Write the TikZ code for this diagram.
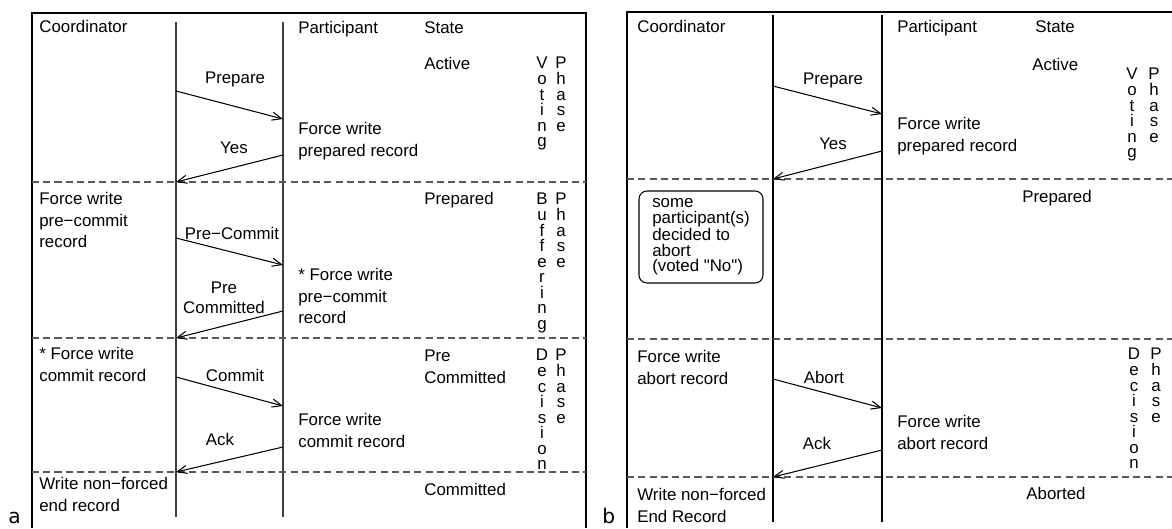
\documentclass[tikz,border=0pt]{standalone}
\usepackage{fontspec}
\newfontfamily\diagfont{Liberation Sans}
\newfontfamily\panelfont{DejaVu Sans}
\usetikzlibrary{arrows.meta}
\tikzset{
  frm/.style ={line width=1.3pt},
  life/.style={line width=0.6pt, black!75},
  sep/.style ={dash pattern=on 4pt off 2.4pt, line width=0.6pt, black!65},
  msg/.style ={-{Straight Barb[length=5.5pt, width=4.6pt]}, line width=0.6pt},
  txt/.style ={font=\diagfont\fontsize{9.6}{12.2}\selectfont, inner sep=0pt,
               align=left, anchor=north west},
  mlab/.style={font=\diagfont\fontsize{9.6}{11.4}\selectfont, inner sep=0pt,
               align=center, anchor=north},
  vert/.style={font=\diagfont\fontsize{9.6}{8.85}\selectfont, inner sep=0pt,
               align=center, anchor=north},
  notebox/.style={draw, rounded corners=4.5pt, line width=0.6pt,
               font=\diagfont\fontsize{9.6}{8.8}\selectfont, align=left,
               minimum width=2.48cm, minimum height=1.84cm, inner sep=0pt},
  plab/.style={font=\panelfont\fontsize{11.5}{12}\selectfont,
               inner sep=0pt, anchor=base west},
}

\begin{document}
\begin{tikzpicture}[x=0.02cm, y=-0.02cm]
  \useasboundingbox (0,0) rectangle (1172,528);
  % panel a: commit
  \draw[frm] (32,528) -- (32,13) -- (586,13) -- (586,528);
  \draw[life] (176,22) -- (176,517);
  \draw[life] (283,22) -- (283,517);
  \foreach \yy in {182,338,472}
    \draw[sep] (32,\yy) -- (586,\yy);
  \coordinate (aC1) at (176,91);  \coordinate (aP1) at (283,119);
  \coordinate (aP2) at (283,155); \coordinate (aC2) at (176,182);
  \coordinate (aC3) at (176,238); \coordinate (aP3) at (283,265);
  \coordinate (aP4) at (283,311); \coordinate (aC4) at (176,338);
  \coordinate (aC5) at (176,377); \coordinate (aP5) at (283,406);
  \coordinate (aP6) at (283,447); \coordinate (aC6) at (176,472);
  \draw[msg] (aC1) -- (aP1);
  \draw[msg] (aP2) -- (aC2);
  \draw[msg] (aC3) -- (aP3);
  \draw[msg] (aP4) -- (aC4);
  \draw[msg] (aC5) -- (aP5);
  \draw[msg] (aP6) -- (aC6);
  \node[mlab] (aPrep) at (235,72)  {Prepare};
  \node[mlab] (aYes)  at (234,142) {Yes};
  \node[mlab] (aPreC) at (232,227) {Pre−Commit};
  \node[mlab] (aPreD) at (224,282) {Pre\\Committed};
  \node[mlab] (aCom)  at (235,369) {Commit};
  \node[mlab] (aAck)  at (220,433) {Ack};
  \node[txt] (aCoord) at (39,20)  {Coordinator};
  \node[txt] (aCw1)   at (39,192) {Force write\\pre−commit\\record};
  \node[txt] (aCw2)   at (39,347) {* Force write\\commit record};
  \node[txt] (aCw3)   at (39,477) {Write non−forced\\end record};
  \node[txt] (aPart)  at (298,21)  {Participant};
  \node[txt] (aPw1)   at (298,122) {Force write\\prepared record};
  \node[txt] (aPw2)   at (298,268) {* Force write\\pre−commit\\record};
  \node[txt] (aPw3)   at (298,413) {Force write\\commit record};
  \node[txt] (aState) at (424,21)  {State};
  \node[txt] (aAct)   at (424,57)  {Active};
  \node[txt] (aPrepd) at (424,192) {Prepared};
  \node[txt] (aPreCm) at (424,350) {Pre\\Committed};
  \node[txt] (aCmtd)  at (424,483) {Committed};
  \node[vert] (aVot) at (542,57)  {V\\o\\t\\i\\n\\g};
  \node[vert] (aPh1) at (561,57)  {P\\h\\a\\s\\e};
  \node[vert] (aBuf) at (542,193) {B\\u\\f\\f\\e\\r\\i\\n\\g};
  \node[vert] (aPh2) at (561,193) {P\\h\\a\\s\\e};
  \node[vert] (aDec) at (542,349) {D\\e\\c\\i\\s\\i\\o\\n};
  \node[vert] (aPh3) at (561,349) {P\\h\\a\\s\\e};
  \node[plab] (la) at (8,523) {a};

  % panel b: abort
  \draw[frm] (627,528) -- (627,12) -- (1172,12);
  \draw[life, black] (773,15) -- (773,522);
  \draw[life, black] (882,15) -- (882,522);
  \foreach \yy in {179,339,477}
    \draw[sep] (627,\yy) -- (1172,\yy);
  \coordinate (bC1) at (773,86);  \coordinate (bP1) at (882,114);
  \coordinate (bP2) at (882,151); \coordinate (bC2) at (773,179);
  \coordinate (bC3) at (773,379); \coordinate (bP3) at (882,408);
  \coordinate (bP4) at (882,450); \coordinate (bC4) at (773,477);
  \draw[msg] (bC1) -- (bP1);
  \draw[msg] (bP2) -- (bC2);
  \draw[msg] (bC3) -- (bP3);
  \draw[msg] (bP4) -- (bC4);
  \node[mlab] (bPrep) at (833,73)  {Prepare};
  \node[mlab] (bYes)  at (833,138) {Yes};
  \node[mlab] (bAbo)  at (824,371) {Abort};
  \node[mlab] (bAck)  at (817,437) {Ack};
  \node[notebox] (bNo) at (701,237)
    {some\\participant(s)\\decided to\\abort\\(voted "No")};
  \node[txt] (bCoord) at (637,20)  {Coordinator};
  \node[txt] (bCw1)   at (637,350) {Force write\\abort record};
  \node[txt] (bCw2)   at (637,488) {Write non−forced\\End Record};
  \node[txt] (bPart)  at (897,20)  {Participant};
  \node[txt] (bPw1)   at (897,117) {Force write\\prepared record};
  \node[txt] (bPw2)   at (897,415) {Force write\\abort record};
  \node[txt] (bState) at (1035,20) {State};
  \node[txt] (bAct)   at (1032,58) {Active};
  \node[mlab] (bPrepd) at (1057,190) {Prepared};
  \node[mlab] (bAbtd)  at (1056,487) {Aborted};
  \node[vert] (bVot) at (1132,68)  {V\\o\\t\\i\\n\\g};
  \node[vert] (bPh1) at (1154,68)  {P\\h\\a\\s\\e};
  \node[vert] (bDec) at (1134,348) {D\\e\\c\\i\\s\\i\\o\\n};
  \node[vert] (bPh2) at (1156,348) {P\\h\\a\\s\\e};
  \node[plab] (lb) at (602,523) {b};
\end{tikzpicture}
\end{document}
